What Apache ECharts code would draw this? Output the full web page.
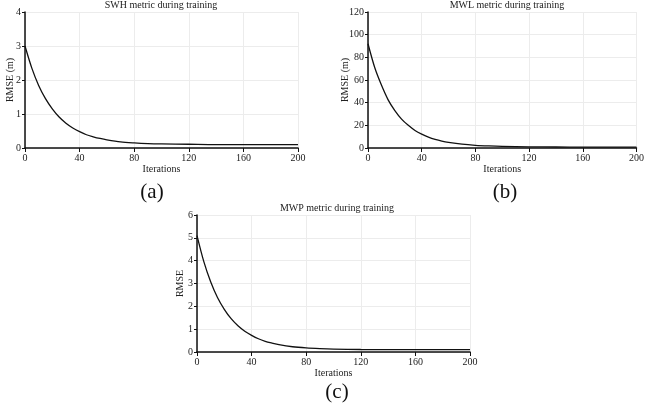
<!DOCTYPE html>
<html>
<head>
<meta charset="utf-8">
<script src="https://cdn.jsdelivr.net/npm/echarts@6/dist/echarts.min.js"></script>
<style>
html,body{margin:0;padding:0;background:#fff;}
#c{width:647px;height:410px;}
</style>
</head>
<body>
<div id="c"></div>
<script>
const iterations = [0,5,10,15,20,25,30,35,40,45,50,55,60,70,80,90,100,120,140,160,180,200];
const swh = [3.00,2.35,1.84,1.45,1.15,0.91,0.73,0.59,0.48,0.39,0.33,0.28,0.24,0.18,0.15,0.13,0.12,0.11,0.10,0.10,0.10,0.10];
const mwl = [92,71,55.5,42.5,33,25.5,20,15.5,12.2,9.6,7.6,6.1,5.0,3.4,2.4,1.8,1.4,1.0,0.9,0.8,0.8,0.8];
const mwp = [5.10,3.96,3.08,2.39,1.87,1.46,1.15,0.91,0.73,0.58,0.47,0.39,0.32,0.23,0.18,0.15,0.13,0.11,0.10,0.10,0.10,0.10];
const xTicks = [0,40,80,120,160,200];
const titles = ['SWH metric during training','MWL metric during training','MWP metric during training'];
const yNames = ['RMSE (m)','RMSE (m)','RMSE'];
const yMax = [4,120,6];
const yStep = [1,20,1];
const panelLabels = ['(a)','(b)','(c)'];

const FONT = '"Liberation Serif", "DejaVu Serif", serif';
const grids = [
  {left:25, top:12, width:273, height:136},
  {left:368, top:12, width:274, height:136},
  {left:197, top:215, width:273, height:137}
];
const titlePos = [[161,0],[507,0],[337,203]];
const panelPos = [[152,182],[505,182],[337,382]];
const yNameGap = [10,18,12];
const seriesData = [swh, mwl, mwp];

const chart = echarts.init(document.getElementById('c'), null, {renderer:'canvas'});
const option = {
  backgroundColor:'#fff',
  animation:false,
  title: titles.map((t,i)=>({
    text: t,
    left: titlePos[i][0],
    top: titlePos[i][1],
    padding:0,
    textAlign:'center',
    textStyle:{fontFamily:FONT,fontSize:10,fontWeight:'normal',color:'#222'}
  })).concat(panelLabels.map((t,i)=>({
    text: t,
    left: panelPos[i][0],
    top: panelPos[i][1],
    padding:0,
    textAlign:'center',
    textStyle:{fontFamily:FONT,fontSize:21,fontWeight:'normal',color:'#111'}
  }))),
  grid: grids.map(g=>Object.assign({containLabel:false}, g)),
  xAxis: grids.map((g,i)=>({
    gridIndex:i, type:'value', min:0, max:200, interval:40,
    name:'Iterations', nameLocation:'middle', nameGap:16, nameMoveOverlap:false,
    nameTextStyle:{fontFamily:FONT,fontSize:10,color:'#222'},
    axisLine:{show:true,onZero:false,lineStyle:{color:'#111',width:1.5}},
    axisTick:{show:true,length:4,lineStyle:{color:'#111'}},
    axisLabel:{fontFamily:FONT,fontSize:10,color:'#222',margin:5},
    splitLine:{show:true,lineStyle:{color:'#ececec',width:1}}
  })),
  yAxis: grids.map((g,i)=>({
    gridIndex:i, type:'value', min:0, max:yMax[i], interval:yStep[i],
    name:yNames[i], nameLocation:'middle', nameGap: yNameGap[i], nameMoveOverlap:false,
    nameTextStyle:{fontFamily:FONT,fontSize:10,color:'#222'},
    axisLine:{show:true,lineStyle:{color:'#111',width:1.5}},
    axisTick:{show:true,length:3,lineStyle:{color:'#111'}},
    axisLabel:{fontFamily:FONT,fontSize:10,color:'#222',margin:4},
    splitLine:{show:true,lineStyle:{color:'#ececec',width:1}}
  })),
  series: seriesData.map((vals,i)=>({
    type:'line', xAxisIndex:i, yAxisIndex:i,
    data: iterations.map((x,j)=>[x, vals[j]]),
    showSymbol:false, smooth:0.3,
    lineStyle:{color:'#111',width:1.3}
  }))
};
chart.setOption(option);
</script>
</body>
</html>
